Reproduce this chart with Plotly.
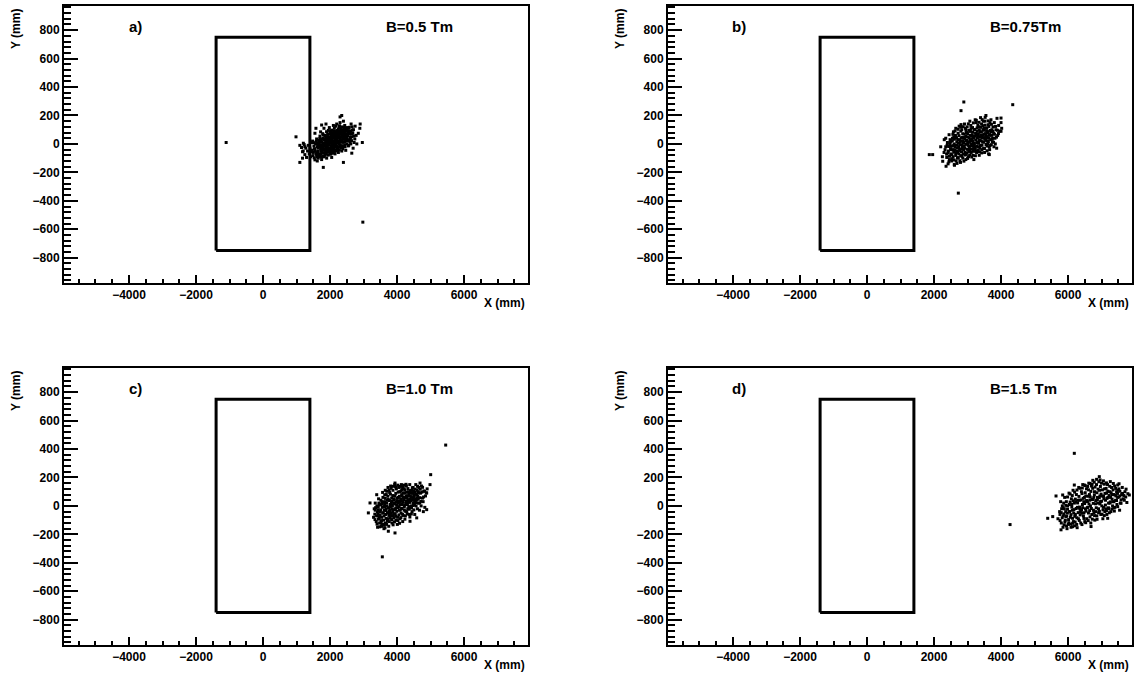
import plotly.graph_objects as go

# ---------------- data ----------------
PANEL_LABELS = ["a)", "b)", "c)", "d)"]
FIELD_LABELS = ["B=0.5 Tm", "B=0.75Tm", "B=1.0 Tm", "B=1.5 Tm"]

MAGNET_X = [-1400, 1400, 1400, -1400, -1400]
MAGNET_Y = [-750, -750, 750, 750, -750]

X_TICKS = [-4000, -2000, 0, 2000, 4000, 6000]
Y_TICKS = [-800, -600, -400, -200, 0, 200, 400, 600, 800]

# panel a) B=0.5 Tm
A_PTS = [
    (-1100, 10), (2980, -550), (985, 50), (2350, 200), (2300, 190), (1100, -130), (1800, -165),
    (2400, -130), (2965, 10), (2900, 140), (2890, 110), (2800, 0), (1250, -20), (1100, -10),
    (1180, -55), (1750, 133), (1880, 140), (1580, 110), (2845, 75), (1204, 5), (1550, -112),
    (2100, -65), (2650, -65),
    (1500, -60), (1550, -40), (1600, -75), (1620, -20), (1650, -50), (1680, 10), (1700, -85),
    (1720, -35), (1740, 20), (1760, -60), (1780, -10), (1800, 40), (1810, -45), (1830, 5),
    (1850, -80), (1860, 60), (1880, -20), (1900, 25), (1910, -55), (1930, 70), (1940, 0),
    (1960, -30), (1970, 45), (1990, -70), (2000, 15), (2020, 90), (2030, -15), (2050, 50),
    (2060, -45), (2080, 20), (2100, 75), (2110, -5), (2130, 110), (2150, 35), (2160, -40),
    (2180, 60), (2200, 5), (2220, 95), (2230, -25), (2250, 40), (2270, 120), (2290, 70),
    (2300, -10), (2320, 30), (2340, 100), (2360, 55), (2380, -35), (2400, 80), (2420, 15),
    (2440, 130), (2460, 45), (2480, 95), (2500, 0), (2520, 65), (2550, 110), (2580, 30),
    (2600, 85), (2630, 140), (2650, 50), (2700, 100), (2720, 10), (2750, 125), (2780, 60),
    (1400, -30), (1420, -90), (1450, 10), (1470, -55), (1380, -70), (1350, -10), (1330, -50),
    (1300, -95), (1280, -30), (1250, -75), (1230, -5), (1200, -50), (1180, -100), (1150, -25),
    (1600, 35), (1650, -100), (1700, 55), (1750, -110), (1800, -30), (1850, 30), (1900, -100),
    (1950, 95), (2000, -50), (2050, -95), (2100, 130), (2150, -70), (2200, 140), (2250, -60),
    (2300, 150), (2350, -50), (2400, 160), (2450, -20), (1550, 75), (1620, -120), (1720, 85),
    (1780, -85), (1820, 110), (1880, -45), (1920, 40), (1980, 115), (2040, -30), (2070, 80),
    (2120, 5), (2170, 125), (2210, -15), (2240, 75), (2280, 20), (2330, -25), (2370, 120),
    (2410, 35), (2470, -45), (2510, 115), (2560, -10), (2610, 40), (2660, 120), (2690, -30),
    (2740, 35), (1480, 20), (1520, -15), (1570, 0), (1630, -60), (1660, 25), (1690, -15),
    (1730, -70), (1770, 35), (1790, 0), (1840, -15), (1870, 15), (1890, 50), (1920, -30),
    (1950, 5), (1970, -55), (2010, 30), (2040, 60), (2060, 10), (2090, -20), (2110, 45),
    (2140, 85), (2170, 15), (2190, -50), (2210, 55), (2260, 85), (2280, -40), (2310, 110),
    (2350, 15), (2390, 60), (2430, 90), (2450, 70), (2490, 30), (2530, 90), (2570, 70),
    (2620, 0), (2680, 75), (2710, 55),
    (1537, -33), (1583, -68), (1612, 4), (1647, -29), (1673, -71), (1694, 38), (1716, -8),
    (1738, -52), (1753, 12), (1771, -27), (1796, 63), (1814, -64), (1827, 27), (1843, -38),
    (1858, -3), (1876, 41), (1893, -72), (1907, 8), (1924, -14), (1938, 52), (1956, -44),
    (1963, 21), (1979, -6), (1994, 68), (2007, -28), (2016, 43), (2029, 4), (2044, -62),
    (2053, 31), (2067, -11), (2076, 58), (2093, 16), (2104, -37), (2117, 71), (2126, 23),
    (2138, -18), (2147, 55), (2163, 38), (2176, -8), (2186, 87), (2197, 29), (2213, -41),
    (2226, 62), (2238, 9), (2247, 104), (2263, 47), (2276, -3), (2289, 91), (2297, 38),
    (2313, 68), (2326, 12), (2343, 79), (2357, -12), (2368, 96), (2384, 42), (2397, 11),
    (2413, 114), (2426, 67), (2437, -8), (2453, 89), (2468, 24), (2483, 72), (2497, 49),
    (2514, 101), (2537, 21), (2553, 76), (2576, 117), (2593, 48), (2617, 92), (2643, 23),
    (1462, -43), (1493, -82), (1507, 9), (1526, -98), (1561, -52), (1589, 18), (1603, -92),
    (1637, -6), (1664, -88), (1707, -19), (1729, 14), (1747, -93), (1768, -42), (1783, 72),
    (1804, -13), (1823, -91), (1847, 58), (1868, -57), (1883, -2), (1897, 86), (1915, -42),
    (1933, 19), (1948, -79), (1967, 36), (1986, -36), (2003, 82), (2023, -72), (2037, 14),
    (2048, 97), (2071, -53), (2086, 45), (2098, -1), (2122, 92), (2133, -52), (2156, 6),
    (2167, 69), (2184, 33), (2204, 78), (2218, -28), (2233, 51), (2254, 13), (2271, 61),
    (2284, 128), (2307, -18), (2318, 81), (2338, 48), (2362, 26), (2377, 75), (2393, -19),
    (2407, 52), (2422, 96), (2447, 15), (2462, 109), (2477, 64), (2504, 33), (2526, 59),
    (2547, -14), (2568, 88), (2597, 12), (2638, 71), (2668, 96),
]

# panel b) B=0.75 Tm
B_PTS = [
    (2890, 295), (2806, 234), (4350, 276), (1860, -75), (1960, -75), (2260, -122), (2360, -157),
    (2606, -145), (2726, -346), (2306, 30), (4000, 182), (4000, 89), (3650, -75), (2806, 136),
    (2200, -20), (2250, -90),
    (2300, -60), (2350, -20), (2380, -95), (2400, 10), (2430, -50), (2460, -110), (2480, 30),
    (2500, -70), (2520, -15), (2550, 40), (2570, -90), (2600, 0), (2620, -45), (2640, 60),
    (2660, -120), (2680, 15), (2700, -30), (2720, 75), (2740, -70), (2760, 30), (2780, -5),
    (2800, 90), (2820, -55), (2840, 45), (2860, -100), (2880, 10), (2900, 70), (2920, -30),
    (2940, 110), (2960, 20), (2980, -65), (3000, 50), (3020, -10), (3040, 95), (3060, -45),
    (3080, 30), (3100, 130), (3120, 0), (3140, 65), (3160, -80), (3180, 40), (3200, 100),
    (3220, -20), (3240, 75), (3260, 150), (3280, 10), (3300, 55), (3320, -45), (3340, 120),
    (3360, 30), (3380, 85), (3400, -10), (3420, 140), (3440, 50), (3460, 100), (3480, -30),
    (3500, 70), (3520, 160), (3540, 25), (3560, 110), (3580, -15), (3600, 80), (3620, 135),
    (3640, 40), (3660, -40), (3680, 95), (3700, 170), (3720, 60), (3740, 15), (3760, 120),
    (3780, 75), (3800, 150), (3820, 40), (3850, 100), (3880, 180), (3900, 60), (3930, 130),
    (3960, 90), (4000, 150), (4020, 110), (2350, 40), (2420, -140), (2450, 65), (2530, -120),
    (2580, 85), (2610, -150), (2650, 110), (2700, -100), (2750, 125), (2790, -130), (2830, 100),
    (2870, -70), (2910, 140), (2950, -110), (2990, 120), (3030, -90), (3070, 160), (3110, -60),
    (3150, 115), (3190, -110), (3230, 170), (3270, -60), (3310, 130), (3350, -80), (3390, 185),
    (3430, -40), (3470, 160), (3510, -60), (3550, 200), (3590, 20), (3630, -70), (3670, 150),
    (3710, -5), (3750, 40), (3790, -20), (3830, 0), (3870, -30), (2330, -40), (2390, -10),
    (2470, 0), (2510, 20), (2560, -40), (2590, 50), (2630, -10), (2670, 40), (2710, -60),
    (2730, 5), (2770, -35), (2810, 20), (2850, -20), (2890, 45), (2930, -60), (2970, 80),
    (3010, 15), (3050, -25), (3090, 60), (3130, 35), (3170, -35), (3210, 55), (3250, -50),
    (3290, 90), (3330, 5), (3370, -30), (3410, 60), (3450, 15), (3490, 110), (3530, 45),
    (3570, 90), (3610, 0), (3650, 60), (3690, 30), (3730, 100),
    (2413, -63), (2437, -18), (2462, -87), (2488, 12), (2507, -41), (2533, -76), (2546, 22),
    (2563, -13), (2587, -58), (2604, 33), (2626, -24), (2647, -81), (2663, 47), (2684, -8),
    (2697, -53), (2713, 29), (2734, -19), (2748, 58), (2767, -46), (2783, 14), (2797, -82),
    (2814, 41), (2827, -7), (2846, -34), (2857, 71), (2873, 22), (2886, -43), (2903, -12),
    (2917, 38), (2934, -78), (2946, 57), (2963, -3), (2977, 26), (2993, -38), (3006, 73),
    (3017, 8), (3034, -53), (3046, 42), (3057, 12), (3073, -17), (3086, 88), (3097, -38),
    (3113, 23), (3126, 54), (3137, -12), (3153, 83), (3166, 17), (3177, -52), (3194, 48),
    (3206, 3), (3217, 102), (3233, -33), (3246, 28), (3258, 64), (3273, -14), (3287, 113),
    (3296, 41), (3313, -22), (3326, 72), (3337, 18), (3354, 97), (3367, -13), (3376, 52),
    (3393, 117), (3407, 23), (3416, 83), (3433, -8), (3446, 44), (3457, 128), (3474, 63),
    (3486, 12), (3497, 96), (3513, 37), (3526, 132), (3537, 72), (3553, -4), (3566, 57),
    (3578, 112), (3593, 43), (3607, 87), (3623, 17), (3637, 123), (3656, 66), (3674, -12),
    (3696, 84), (3714, 138), (3733, 34), (3756, 88), (3777, 12), (3804, 68), (3837, 123),
    (3866, 48), (3893, 96), (3924, 73), (2376, -72), (2444, -126), (2494, -33), (2541, -104),
    (2596, -112), (2652, -62), (2688, -137), (2726, -96), (2773, -118), (2836, -88),
    (2893, -121), (2957, -73), (3003, -102), (3064, -78), (3127, -92), (3184, -18),
    (3236, -83), (3302, -53), (3363, -56), (3424, -63), (3506, -32), (3584, -48), (3648, -21),
    (2563, 68), (2628, 91), (2719, 103), (2796, 118), (2871, 121), (2952, 96), (3024, 141),
    (3104, 108), (3176, 148), (3263, 166), (3344, 152), (3438, 171), (3527, 187), (3617, 162),
]

# panel c) B=1.0 Tm
C_PTS = [
    (5453, 428), (5005, 220), (3562, -358), (3940, 161), (3394, 79), (3194, 21), (3145, -49),
    (3343, -96), (3642, -154), (3741, -178), (3940, -190), (3543, -143), (4886, -26),
    (4786, -40), (4985, 150), (4687, 161), (4886, 91), (4388, -108), (4588, -84), (4140, 115),
    (3300, -80), (3350, -30), (3380, -110), (3400, 0), (3430, -60), (3460, 20), (3480, -120),
    (3500, -40), (3520, 40), (3540, -80), (3560, -10), (3580, 60), (3600, -100), (3620, -30),
    (3640, 30), (3660, -60), (3680, 80), (3700, 0), (3720, -90), (3740, 45), (3760, -35),
    (3780, 95), (3800, 10), (3820, -70), (3840, 55), (3860, -20), (3880, 110), (3900, 20),
    (3920, -55), (3940, 70), (3960, -15), (3980, 120), (4000, 35), (4020, -80), (4040, 60),
    (4060, -5), (4080, 100), (4100, 25), (4120, -50), (4140, 80), (4160, 10), (4180, 130),
    (4200, 45), (4220, -30), (4240, 90), (4260, 20), (4280, 140), (4300, 55), (4320, -20),
    (4340, 100), (4360, 35), (4380, 150), (4400, 70), (4420, 0), (4440, 110), (4460, 40),
    (4480, 130), (4500, 75), (4520, 10), (4540, 95), (4560, 150), (4580, 45), (4600, 110),
    (4620, 70), (4650, 130), (4680, 20), (4700, 90), (4730, 140), (4760, 55), (4800, 105),
    (4850, 70), (4900, 120), (3350, 20), (3420, -150), (3450, 50), (3530, -140), (3570, 95),
    (3610, -160), (3650, 110), (3690, -130), (3730, 130), (3770, -110), (3810, 140),
    (3850, -120), (3890, -70), (3930, 150), (3970, -100), (4010, -130), (4050, 130),
    (4090, -90), (4130, 150), (4170, -110), (4210, 120), (4250, -70), (4290, -40), (4330, 40),
    (4370, -60), (4410, 90), (4450, -40), (4490, 20), (4530, -60), (4570, 0), (4610, -20),
    (4640, 20), (4670, -30), (4720, 0), (4780, 30), (4830, -10), (3320, -20), (3390, -70),
    (3440, -10), (3470, -80), (3510, 10), (3550, 30), (3590, -50), (3630, 10), (3670, -20),
    (3710, 40), (3750, -50), (3790, -10), (3830, 20), (3870, -40), (3910, 50), (3950, -25),
    (3990, 5), (4030, 20), (4070, -30), (4110, 50), (4150, -20), (4190, 60), (4230, 5),
    (4270, 70), (4310, 10), (4350, -5), (4390, 25), (4430, 60), (4470, 90), (4510, 45),
    (4550, 35), (4590, 80), (4630, 100),
    (3416, -43), (3447, -93), (3473, 7), (3497, -63), (3513, -28), (3536, -103), (3553, 12),
    (3574, -48), (3592, 27), (3613, -71), (3627, -6), (3648, 53), (3663, -33), (3676, -88),
    (3694, 21), (3713, -48), (3727, 68), (3746, -13), (3758, -67), (3774, 38), (3788, -32),
    (3803, 83), (3817, -3), (3834, -53), (3846, 33), (3863, 3), (3874, 73), (3893, -28),
    (3906, -84), (3917, 41), (3936, 13), (3948, -57), (3963, 88), (3977, 26), (3994, -38),
    (4007, 53), (4018, -12), (4034, 97), (4047, 33), (4057, -63), (4073, 68), (4086, 8),
    (4097, -28), (4113, 103), (4126, 37), (4137, -17), (4153, 73), (4166, -58), (4177, 28),
    (4193, 92), (4206, 48), (4217, -7), (4233, 113), (4246, 58), (4257, -38), (4273, 33),
    (4286, 97), (4297, 13), (4313, 71), (4326, 122), (4337, 26), (4353, 86), (4366, -23),
    (4377, 47), (4393, 108), (4406, 38), (4417, 63), (4433, -14), (4446, 92), (4457, 128),
    (4473, 52), (4486, 3), (4497, 107), (4513, 63), (4527, 28), (4544, 118), (4563, 82),
    (4576, 23), (4593, 57), (4613, 138), (4634, 47), (4656, 93), (4673, 58), (4694, 118),
    (4717, 32), (4744, 97), (4763, 131), (4793, 63), (4823, 103), (4873, 92), (3337, -58),
    (3362, -12), (3404, -128), (3437, -31), (3486, -147), (3523, -113), (3567, -128),
    (3618, -136), (3656, -121), (3708, -108), (3754, -143), (3797, -87), (3843, -96),
    (3883, -133), (3924, -112), (3966, -73), (4026, -103), (4076, -122), (4116, -82),
    (4183, -67), (4236, -93), (4304, -57), (4384, -78), (4427, -57), (4503, -28), (3634, 78),
    (3697, 103), (3764, 112), (3826, 124), (3886, 138), (3956, 134), (4023, 146), (4104, 137),
    (4196, 146), (4268, 152),
]

# panel d) B=1.5 Tm
D_PTS = [
    (6188, 370), (4270, -131), (5394, -87), (5543, -75), (5642, 70), (5841, 77), (5791, -168),
    (5940, -75), (6188, 147), (6487, 147), (6934, 206), (7483, 147), (7830, 77), (7582, 19),
    (7483, -5), (6687, -145), (7184, -87), (6140, -122),
    (5700, -90), (5750, -40), (5800, -120), (5830, 0), (5860, -70), (5890, -20), (5920, -100),
    (5950, 30), (5980, -50), (6010, -130), (6040, 10), (6070, -80), (6100, 50), (6130, -30),
    (6160, -110), (6190, 20), (6220, -60), (6250, 80), (6280, -10), (6310, -90), (6340, 40),
    (6370, -40), (6400, 100), (6430, 10), (6460, -70), (6490, 60), (6520, -20), (6550, 120),
    (6580, 30), (6610, -50), (6640, 80), (6670, 0), (6700, 140), (6730, 45), (6760, -30),
    (6790, 100), (6820, 15), (6850, 150), (6880, 60), (6910, -20), (6940, 110), (6970, 30),
    (7000, 160), (7030, 70), (7060, -10), (7090, 120), (7120, 40), (7150, 90), (7180, 150),
    (7210, 20), (7240, 100), (7270, 60), (7300, 130), (7330, 0), (7360, 80), (7390, 140),
    (7420, 40), (7450, 100), (7480, 60), (7520, 120), (7560, 20), (7600, 80), (7650, 50),
    (7700, 100), (5780, 30), (5850, -150), (5900, 60), (5970, -160), (6030, 90), (6090, -150),
    (6150, 110), (6200, -140), (6260, -130), (6320, 130), (6380, -120), (6440, 150),
    (6500, -110), (6560, -90), (6620, 160), (6680, -120), (6740, 180), (6800, -100),
    (6860, -70), (6920, 170), (6980, -60), (7040, -90), (7100, -40), (7160, -60), (7220, -20),
    (7280, -40), (7340, 30), (7400, -10), (7460, 10), (7540, -30), (5760, -60), (5810, -20),
    (5870, 20), (5930, -40), (5990, 0), (6050, -40), (6110, 10), (6170, -50), (6230, 30),
    (6290, 40), (6350, -20), (6410, -50), (6470, 30), (6530, 70), (6590, -10), (6650, 40),
    (6710, -60), (6770, 60), (6830, -40), (6890, 20), (6950, 70), (7010, 0), (7070, 50),
    (7130, -20), (7190, 60), (7250, 20), (7310, 80), (7370, 30), (7430, 70), (7490, 110),
    (7550, 70), (7620, 130), (7680, 40),
    (5763, -103), (5797, -47), (5826, -83), (5853, -13), (5878, -56), (5907, -113), (5934, 4),
    (5961, -71), (5986, -23), (6017, -96), (6043, -41), (6064, 27), (6087, -61), (6113, -8),
    (6137, -87), (6154, 36), (6176, -26), (6203, -73), (6217, 48), (6243, -18), (6263, -83),
    (6287, 21), (6304, -47), (6327, 67), (6346, -8), (6363, -63), (6386, 42), (6403, -28),
    (6417, 87), (6437, -12), (6453, 53), (6477, -48), (6496, 17), (6513, 93), (6537, -37),
    (6553, 38), (6573, -13), (6596, 68), (6613, 113), (6627, 14), (6646, -33), (6663, 63),
    (6683, 102), (6697, -18), (6717, 48), (6736, 124), (6753, 18), (6773, -47), (6787, 78),
    (6807, 133), (6826, 38), (6843, -13), (6863, 93), (6877, 43), (6897, 118), (6913, -48),
    (6933, 58), (6953, 14), (6967, 137), (6987, 83), (7003, 33), (7027, 113), (7043, -28),
    (7063, 67), (7083, 153), (7104, 88), (7117, 6), (7137, 123), (7163, 53), (7186, 104),
    (7207, -13), (7227, 73), (7246, 138), (7263, 28), (7287, 93), (7317, 48), (7343, 113),
    (7367, -13), (7397, 78), (7423, 123), (7447, 38), (7477, 88), (7513, 63), (7547, 103),
    (7583, 43), (7627, 88), (7667, 73), (7723, 63), (5883, -133), (5956, -141), (6023, -118),
    (6077, -128), (6134, -146), (6213, -113), (6273, -153), (6337, -102), (6416, -131),
    (6474, -88), (6527, -118), (6603, -103), (6657, -77), (6726, -93), (6793, -68),
    (6867, -94), (6937, -38), (7013, -58), (7083, -68), (7147, -33), (7233, -48), (7313, -22),
    (7383, -36), (5986, 63), (6063, 84), (6127, 73), (6197, 97), (6268, 112), (6353, 124),
    (6427, 126), (6513, 143), (6587, 137), (6653, 158), (6718, 153), (6783, 167), (6853, 187),
    (6958, 183), (7057, 176), (7147, 162), (7263, 171), (7353, 158), (7523, 156), (7733, 118),
    (7787, 86), (7757, 24),
]

PANELS = [A_PTS, B_PTS, C_PTS, D_PTS]

# ---------------- layout geometry ----------------
W, H = 1136, 677
X_RANGE = [-5940, 7910]
Y_RANGE = [-978, 970]
X_DOMAINS = [[64 / W, 528 / W], [668 / W, 1132 / W]]
Y_DOMAINS = [[1 - 283 / H, 1 - 6 / H], [1 - 645 / H, 1 - 368 / H]]

FONT = "Liberation Sans, Arial, sans-serif"

fig = go.Figure()

layout = dict(
    width=W, height=H,
    margin=dict(l=0, r=0, t=0, b=0),
    paper_bgcolor="white", plot_bgcolor="white",
    showlegend=False,
)

annotations = []
for i, pts in enumerate(PANELS):
    row, col = divmod(i, 2)
    n = "" if i == 0 else str(i + 1)
    xa, ya = "x" + n, "y" + n

    fig.add_trace(go.Scatter(
        x=MAGNET_X, y=MAGNET_Y, mode="lines", xaxis=xa, yaxis=ya,
        line=dict(color="black", width=3), hoverinfo="skip",
    ))
    fig.add_trace(go.Scatter(
        x=[p[0] for p in pts], y=[p[1] for p in pts], mode="markers", xaxis=xa, yaxis=ya,
        marker=dict(symbol="square", size=3, color="black", line=dict(width=0)),
    ))

    common = dict(
        showgrid=False, zeroline=False, showline=True, mirror=True,
        linecolor="black", linewidth=2, ticks="inside", tickwidth=2, tickcolor="black",
        tickfont=dict(family=FONT, size=12, color="black", weight="bold"),
    )
    layout["xaxis" + n] = dict(
        common, domain=X_DOMAINS[col], range=X_RANGE, anchor=ya,
        tickvals=X_TICKS, ticklen=8,
        minor=dict(dtick=500, tick0=0, ticklen=4, ticks="inside", tickwidth=2, tickcolor="black"),
    )
    layout["yaxis" + n] = dict(
        common, domain=Y_DOMAINS[row], range=Y_RANGE, anchor=xa,
        tickvals=Y_TICKS, ticklen=14,
        minor=dict(dtick=40, tick0=0, ticklen=7, ticks="inside", tickwidth=2, tickcolor="black"),
    )

    top_px = 6 + 362 * row
    left_px = 604 * col
    annotations.append(dict(
        text=PANEL_LABELS[i], xref=xa, yref=ya, x=-3820, y=828, showarrow=False,
        xanchor="center", yanchor="middle",
        font=dict(family=FONT, size=15, color="black", weight="bold"),
    ))
    annotations.append(dict(
        text=FIELD_LABELS[i], xref=xa, yref=ya, x=3620, y=828, showarrow=False,
        xanchor="left", yanchor="middle",
        font=dict(family=FONT, size=15, color="black", weight="bold"),
    ))
    annotations.append(dict(
        text="Y (mm)", xref="paper", yref="paper", x=(16 + left_px) / W, y=1 - (top_px + 1) / H,
        textangle=-90, showarrow=False, xanchor="center", yanchor="top",
        font=dict(family=FONT, size=12, color="black", weight="bold"),
    ))
    annotations.append(dict(
        text="X (mm)", xref="paper", yref="paper", x=(527 + left_px) / W,
        y=1 - (303 + 362 * row) / H, showarrow=False, xanchor="right", yanchor="middle",
        font=dict(family=FONT, size=12, color="black", weight="bold"),
    ))

layout["annotations"] = annotations
fig.update_layout(**layout)
fig.write_html("out.html", config={"displayModeBar": False},
               post_script="document.body.style.margin='0';")
